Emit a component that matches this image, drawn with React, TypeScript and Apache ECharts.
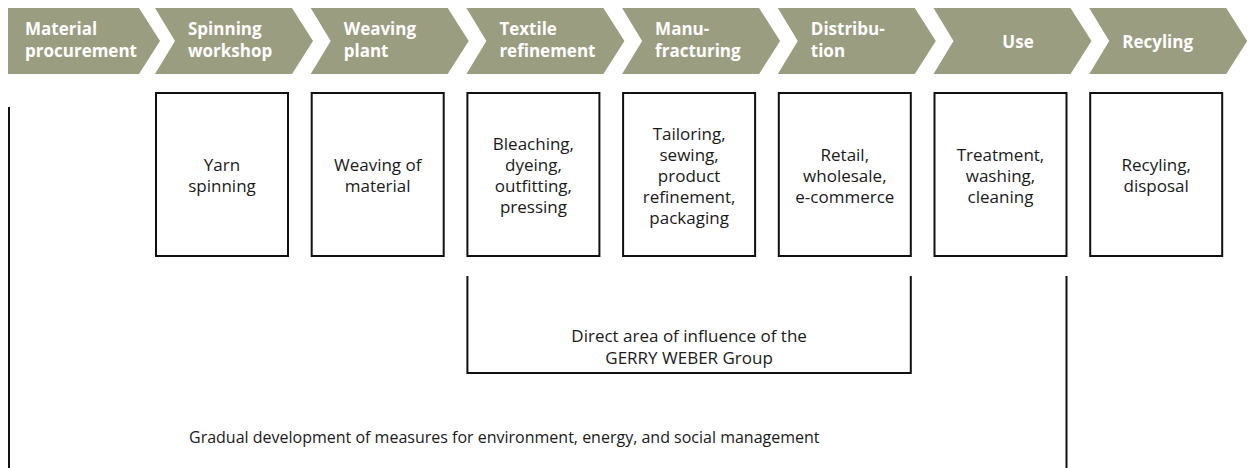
import React, { useEffect, useRef } from "react";
import * as echarts from "echarts";

const stages: string[] = [
  "Material\nprocurement",
  "Spinning\nworkshop",
  "Weaving\nplant",
  "Textile\nrefinement",
  "Manu-\nfracturing",
  "Distribu-\ntion",
  "Use",
  "Recyling",
];

const activities: string[] = [
  "",
  "Yarn\nspinning",
  "Weaving of\nmaterial",
  "Bleaching,\ndyeing,\noutfitting,\npressing",
  "Tailoring,\nsewing,\nproduct\nrefinement,\npackaging",
  "Retail,\nwholesale,\ne-commerce",
  "Treatment,\nwashing,\ncleaning",
  "Recyling,\ndisposal",
];

const directText = "Direct area of influence of the\nGERRY WEBER Group";
const gradualText =
  "Gradual development of measures for environment, energy, and social management";

const OLIVE = "#9b9d81";
const FONT = "'Open Sans', 'Noto Sans', sans-serif";

export default function App() {
  const ref = useRef<HTMLDivElement>(null);

  useEffect(() => {
    document.body.style.margin = "0";
    if (!ref.current) return;
    const chart = echarts.init(ref.current, undefined, { renderer: "svg" });

    const pitch = 155.7;
    const x0 = 155;
    const top = 8;
    const bot = 74;
    const mid = 41;
    const colX = (i: number) => (i === 0 ? 8 : x0 + (i - 1) * pitch);

    const elements: any[] = [];

    stages.forEach((label, i) => {
      const x = colX(i);
      let pts: number[][];
      if (i === 0) {
        pts = [
          [8, top],
          [139, top],
          [160, mid],
          [139, bot],
          [8, bot],
        ];
      } else {
        pts = [
          [x, top],
          [x + 137, top],
          [x + 158, mid],
          [x + 137, bot],
          [x, bot],
          [x + 20, mid],
        ];
      }
      elements.push({
        type: "polygon",
        shape: { points: pts },
        style: { fill: OLIVE, stroke: null },
        silent: true,
      });
      const single = label.indexOf("\n") < 0;
      let tx: number;
      let align = "left";
      if (i === 0) tx = 25;
      else if (label === "Use") {
        tx = x + 84.5;
        align = "center";
      } else tx = x + 33;
      elements.push({
        type: "text",
        x: tx,
        y: single ? 41 : 39,
        style: {
          text: label,
          fill: "#ffffff",
          fontFamily: FONT,
          fontWeight: "bold",
          fontSize: 17,
          lineHeight: 22,
          align,
          verticalAlign: "middle",
        },
        silent: true,
      });
    });

    activities.forEach((txt, i) => {
      if (i === 0) return;
      const x = colX(i);
      elements.push({
        type: "rect",
        shape: { x: x + 1, y: 93, width: 132, height: 163 },
        style: { fill: "#ffffff", stroke: "#111111", lineWidth: 2 },
        silent: true,
      });
      elements.push({
        type: "text",
        x: x + 67,
        y: 175,
        style: {
          text: txt,
          fill: "#1a1a1a",
          fontFamily: FONT,
          fontSize: 17,
          lineHeight: 21,
          align: "center",
          verticalAlign: "middle",
        },
        silent: true,
      });
    });

    // left long line
    elements.push({
      type: "line",
      shape: { x1: 9, y1: 107, x2: 9, y2: 468 },
      style: { stroke: "#111111", lineWidth: 2 },
      silent: true,
    });
    // right long line
    const rightX = colX(6) + 133;
    elements.push({
      type: "line",
      shape: { x1: rightX, y1: 276, x2: rightX, y2: 468 },
      style: { stroke: "#111111", lineWidth: 2 },
      silent: true,
    });
    // bracket
    const bl = colX(3) + 1;
    const br = colX(5) + 133;
    elements.push({
      type: "polyline",
      shape: {
        points: [
          [bl, 276],
          [bl, 373],
          [br, 373],
          [br, 276],
        ],
      },
      style: { stroke: "#111111", lineWidth: 2, fill: null },
      silent: true,
    });
    elements.push({
      type: "text",
      x: (bl + br) / 2,
      y: 346,
      style: {
        text: directText,
        fill: "#1a1a1a",
        fontFamily: FONT,
        fontSize: 17,
        lineHeight: 22,
        align: "center",
        verticalAlign: "middle",
      },
      silent: true,
    });
    elements.push({
      type: "text",
      x: 189,
      y: 437,
      style: {
        text: gradualText,
        fill: "#1a1a1a",
        fontFamily: FONT,
        fontSize: 16,
        align: "left",
        verticalAlign: "middle",
      },
      silent: true,
    });

    chart.setOption({
      animation: false,
      backgroundColor: "#ffffff",
      graphic: { elements },
    });

    return () => chart.dispose();
  }, []);

  return <div ref={ref} style={{ width: 1250, height: 468 }} />;
}
